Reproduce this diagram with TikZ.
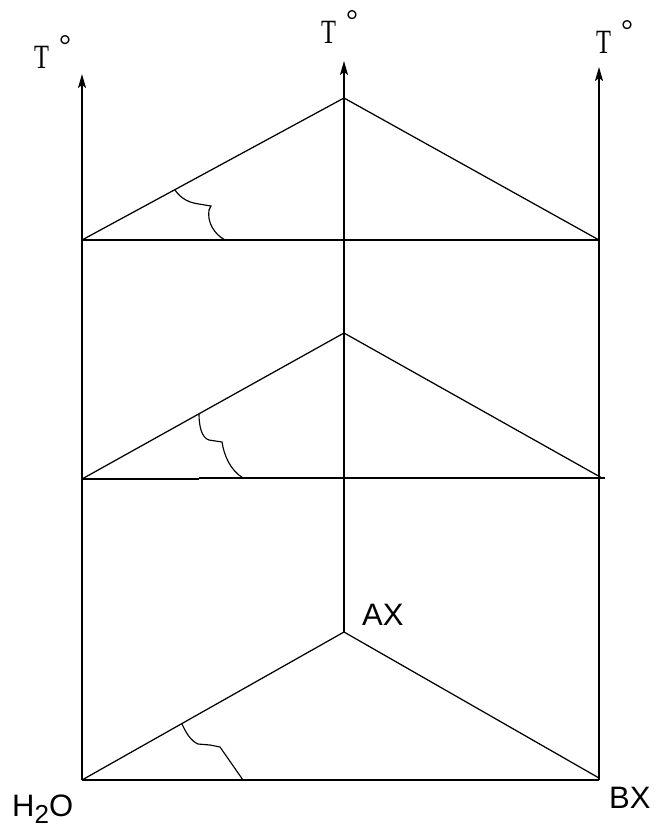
\documentclass[tikz,border=0pt]{standalone}
\usepackage{fontspec}
\usetikzlibrary{arrows.meta}
\newfontfamily\lserif{Liberation Serif}
\newfontfamily\lsans{Liberation Sans}
\newcommand\Tdegmark{\scalebox{0.72}[1]{T}\kern10pt\raisebox{13pt}{\fontsize{30}{30}\selectfont °}}
\tikzset{
  axisline/.style={line width=1.7pt, -{Stealth[length=14pt,width=8pt,inset=3pt]}},
  baseline/.style={line width=1.7pt},
  slope/.style={line width=1.25pt},
  anglemark/.style={line width=1.15pt},
  tlbl/.style={font=\lserif\fontsize{34}{34}\selectfont, inner sep=0pt, anchor=base west},
  slbl/.style={font=\lsans\fontsize{31}{31}\selectfont, inner sep=0pt, anchor=base west}
}
\begin{document}
\begin{tikzpicture}[x=1pt,y=-1pt]
\useasboundingbox (0,0) rectangle (660,835);
% corner coordinates
\coordinate (L0) at (82,780);
\coordinate (L1) at (82,479);
\coordinate (L2) at (82,240);
\coordinate (Ltop) at (82,74);
\coordinate (C0) at (344,632);
\coordinate (C1) at (344,333);
\coordinate (C2) at (344,98);
\coordinate (Ctop) at (344,61);
\coordinate (R0) at (599,780);
\coordinate (R0b) at (599,778);
\coordinate (R1) at (605,478);
\coordinate (R1b) at (602,478);
\coordinate (R2) at (599,240);
\coordinate (Rtop) at (599,67);
\coordinate (M1) at (199,479);
\coordinate (M1b) at (199,478);
% vertical axes
\draw[axisline] (L0) -- (Ltop);
\draw[axisline] (C0) -- (Ctop);
\draw[axisline] (R0) -- (Rtop);
% horizontal lines
\draw[baseline] (L2) -- (R2);
\draw[baseline] (L1) -- (M1);
\draw[baseline] (M1b) -- (R1);
\draw[baseline] (L0) -- (R0);
% triangles
\draw[slope] (L2) -- (C2) -- (R2);
\draw[slope] (L1) -- (C1) -- (R1b);
\draw[slope] (L0) -- (C0) -- (R0b);
% angle marks
\draw[anglemark] (175,190) .. controls (181,199) and (190,203) .. (199,204) -- (211,206) -- (209,210) .. controls (207,222) and (214,234) .. (225,240);
\draw[anglemark] (199,414) .. controls (199,427) and (202,438) .. (209,440) -- (222,442) .. controls (224,455) and (230,470) .. (243,478);
\draw[anglemark] (182,724) .. controls (186,733) and (191,741) .. (198,744) -- (210,745) -- (220,747) -- (243,780);
% labels
\node[tlbl] (tl) at (34,68) {\Tdegmark};
\node[tlbl] (tc) at (321,43) {\Tdegmark};
\node[tlbl] (tr) at (596,53) {\Tdegmark};
\node[slbl] (ax) at (362,625) {AX};
\node[slbl] (bx) at (609,808) {BX};
\node[slbl] (h2o) at (12,816) {H\raisebox{-7pt}{\fontsize{26}{26}\selectfont 2}O};
\end{tikzpicture}
\end{document}
